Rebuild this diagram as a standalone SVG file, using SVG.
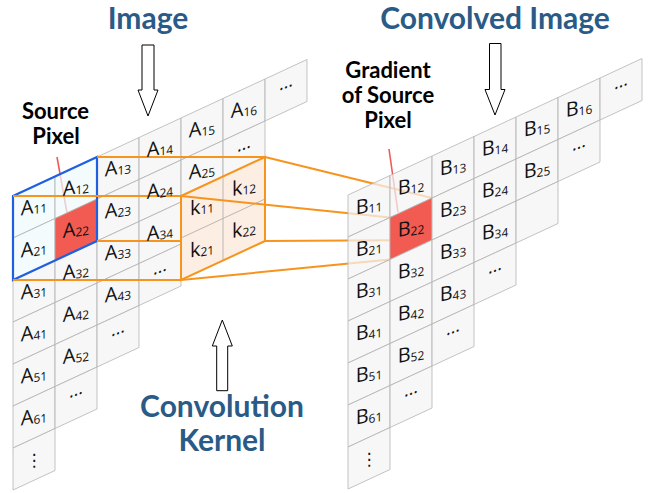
<svg xmlns="http://www.w3.org/2000/svg" xmlns:xlink="http://www.w3.org/1999/xlink" width="653" height="493" viewBox="0 0 653 493">
<style>
.title{font-family:Lato,"Open Sans","Liberation Sans",sans-serif;font-weight:700;font-size:30px;fill:#2a5b87;text-anchor:middle}
.lbl{font-family:Lato,"Open Sans","Liberation Sans",sans-serif;font-weight:700;font-size:22px;fill:#000;text-anchor:middle}
.cell{fill:#f4f4f4;fill-opacity:0.72;stroke:#b4b4b4;stroke-width:0.8}
.sel{fill:#eefafc;fill-opacity:0.72;stroke:#b4b4b4;stroke-width:0.8}
.red{fill:#f25b52;stroke:#b4b4b4;stroke-width:0.8}
.t{font-family:"Open Sans","Noto Sans","DejaVu Sans",sans-serif;font-size:20px;fill:#111;text-anchor:middle}
.s{font-size:12px}
.dots{font-family:"Open Sans","DejaVu Sans",sans-serif;font-size:18px;fill:#111;text-anchor:middle}
.vd{font-family:"DejaVu Sans",sans-serif;font-size:17px;fill:#111;text-anchor:middle}
.or{stroke:#f7941d;stroke-width:2;fill:none}
.arrow{fill:#fff;stroke:#000;stroke-width:1}
.pin{stroke:#f05a55;stroke-width:1.6}
</style>
<defs>
<path id="c" d="M0,0 l42,-19.5 v42 l-42,19.5 z"/>
</defs>

<g id="titles">
<text class="title" x="148" y="29">Image</text>
<text class="title" x="495" y="29">Convolved Image</text>
<text class="title" x="222" y="417">Convolution</text>
<text class="title" x="222" y="451">Kernel</text>
<text class="lbl" x="55.5" y="119">Source</text>
<text class="lbl" x="56" y="144">Pixel</text>
<text class="lbl" x="388" y="78">Gradient</text>
<text class="lbl" x="388" y="103">of Source</text>
<text class="lbl" x="388" y="128">Pixel</text>
</g>

<g id="arrows">
<polygon class="arrow" points="142,45 154,45 154,90 158,90 148,116 138,90 142,90"/>
<polygon class="arrow" points="489.5,43.5 501,43.5 501,89.5 505,89.5 495,115 485,89.5 489.5,89.5"/>
<polygon class="arrow" points="222.3,320 232.3,346 227.7,346 227.7,390.7 216.7,390.7 216.7,346 212.3,346"/>
</g>

<g id="source-pin"><line class="pin" x1="57" y1="157" x2="67" y2="213"/></g>

<g id="image-grid">
<use href="#c" class="sel" x="13" y="196"/>
<use href="#c" class="sel" x="13" y="238"/>
<use href="#c" class="cell" x="13" y="280"/>
<use href="#c" class="cell" x="13" y="322"/>
<use href="#c" class="cell" x="13" y="364"/>
<use href="#c" class="cell" x="13" y="406"/>
<use href="#c" class="cell" x="13" y="448"/>
<use href="#c" class="sel" x="55" y="176.5"/>
<use href="#c" class="red" x="55" y="218.5"/>
<use href="#c" class="cell" x="55" y="260.5"/>
<use href="#c" class="cell" x="55" y="302.5"/>
<use href="#c" class="cell" x="55" y="344.5"/>
<use href="#c" class="cell" x="55" y="386.5"/>
<use href="#c" class="cell" x="97" y="157"/>
<use href="#c" class="cell" x="97" y="199"/>
<use href="#c" class="cell" x="97" y="241"/>
<use href="#c" class="cell" x="97" y="283"/>
<use href="#c" class="cell" x="97" y="325"/>
<use href="#c" class="cell" x="139" y="137.5"/>
<use href="#c" class="cell" x="139" y="179.5"/>
<use href="#c" class="cell" x="139" y="221.5"/>
<use href="#c" class="cell" x="139" y="263.5"/>
<use href="#c" class="cell" x="181" y="118"/>
<use href="#c" class="cell" x="181" y="160"/>
<use href="#c" class="cell" x="181" y="202"/>
<use href="#c" class="cell" x="223" y="98.5"/>
<use href="#c" class="cell" x="223" y="140.5"/>
<use href="#c" class="cell" x="265" y="79"/>
<polygon points="13,196 97,157 97,241 13,280" fill="none" stroke="#1f5fe0" stroke-width="2.2"/>
</g>

<g id="connectors">
<line class="or" x1="13" y1="196" x2="181" y2="196"/>
<line class="or" x1="97" y1="157" x2="265" y2="157"/>
<line class="or" x1="97" y1="241" x2="265" y2="241"/>
<line class="or" x1="13" y1="280" x2="181" y2="280"/>
</g>

<g id="kernel">
<polygon points="181,196 265,157 265,241 181,280" fill="#fdeee3"/>
<line x1="223" y1="176.5" x2="223" y2="260.5" stroke="#a8a8a8" stroke-width="0.8"/>
<line x1="181" y1="238" x2="265" y2="199" stroke="#a8a8a8" stroke-width="0.8"/>
<polygon class="or" points="181,196 265,157 265,241 181,280"/>
</g>

<g id="kernel-links">
<line class="or" x1="265" y1="157" x2="432" y2="198"/>
<line class="or" x1="181" y1="196" x2="390" y2="217.5"/>
<line class="or" x1="265" y1="241" x2="432" y2="240"/>
<line class="or" x1="181" y1="280" x2="390" y2="259.5"/>
</g>

<g id="gradient-pin"><line class="pin" x1="389" y1="149" x2="398" y2="212.5"/></g>

<g id="convolved-grid">
<use href="#c" class="cell" x="348" y="195"/>
<use href="#c" class="cell" x="348" y="237"/>
<use href="#c" class="cell" x="348" y="279"/>
<use href="#c" class="cell" x="348" y="321"/>
<use href="#c" class="cell" x="348" y="363"/>
<use href="#c" class="cell" x="348" y="405"/>
<use href="#c" class="cell" x="348" y="447"/>
<use href="#c" class="cell" x="390" y="175.5"/>
<use href="#c" class="red" x="390" y="217.5"/>
<use href="#c" class="cell" x="390" y="259.5"/>
<use href="#c" class="cell" x="390" y="301.5"/>
<use href="#c" class="cell" x="390" y="343.5"/>
<use href="#c" class="cell" x="390" y="385.5"/>
<use href="#c" class="cell" x="432" y="156"/>
<use href="#c" class="cell" x="432" y="198"/>
<use href="#c" class="cell" x="432" y="240"/>
<use href="#c" class="cell" x="432" y="282"/>
<use href="#c" class="cell" x="432" y="324"/>
<use href="#c" class="cell" x="474" y="136.5"/>
<use href="#c" class="cell" x="474" y="178.5"/>
<use href="#c" class="cell" x="474" y="220.5"/>
<use href="#c" class="cell" x="474" y="262.5"/>
<use href="#c" class="cell" x="516" y="117"/>
<use href="#c" class="cell" x="516" y="159"/>
<use href="#c" class="cell" x="516" y="201"/>
<use href="#c" class="cell" x="558" y="97.5"/>
<use href="#c" class="cell" x="558" y="139.5"/>
<use href="#c" class="cell" x="600" y="78"/>
</g>

<g id="image-labels">
<text class="t" transform="translate(34 207.25) skewY(-10)" y="6">A<tspan class="s" dy="1">11</tspan></text>
<text class="t" transform="translate(34 249.25) skewY(-10)" y="6">A<tspan class="s" dy="1">21</tspan></text>
<text class="t" transform="translate(34 291.25) skewY(-10)" y="6">A<tspan class="s" dy="1">31</tspan></text>
<text class="t" transform="translate(34 333.25) skewY(-10)" y="6">A<tspan class="s" dy="1">41</tspan></text>
<text class="t" transform="translate(34 375.25) skewY(-10)" y="6">A<tspan class="s" dy="1">51</tspan></text>
<text class="t" transform="translate(34 417.25) skewY(-10)" y="6">A<tspan class="s" dy="1">61</tspan></text>
<text class="vd" x="34" y="466">⋮</text>
<text class="t" transform="translate(76 187.75) skewY(-10)" y="6">A<tspan class="s" dy="1">12</tspan></text>
<text class="t" transform="translate(76 229.75) skewY(-10)" y="6">A<tspan class="s" dy="1">22</tspan></text>
<text class="t" transform="translate(76 271.75) skewY(-10)" y="6">A<tspan class="s" dy="1">32</tspan></text>
<text class="t" transform="translate(76 313.75) skewY(-10)" y="6">A<tspan class="s" dy="1">42</tspan></text>
<text class="t" transform="translate(76 355.75) skewY(-10)" y="6">A<tspan class="s" dy="1">52</tspan></text>
<text class="dots" transform="translate(76 397.75) skewY(-20)" y="-2">…</text>
<text class="t" transform="translate(118 168.25) skewY(-10)" y="6">A<tspan class="s" dy="1">13</tspan></text>
<text class="t" transform="translate(118 210.25) skewY(-10)" y="6">A<tspan class="s" dy="1">23</tspan></text>
<text class="t" transform="translate(118 252.25) skewY(-10)" y="6">A<tspan class="s" dy="1">33</tspan></text>
<text class="t" transform="translate(118 294.25) skewY(-10)" y="6">A<tspan class="s" dy="1">43</tspan></text>
<text class="dots" transform="translate(118 336.25) skewY(-20)" y="-2">…</text>
<text class="t" transform="translate(160 148.75) skewY(-10)" y="6">A<tspan class="s" dy="1">14</tspan></text>
<text class="t" transform="translate(160 190.75) skewY(-10)" y="6">A<tspan class="s" dy="1">24</tspan></text>
<text class="t" transform="translate(160 232.75) skewY(-10)" y="6">A<tspan class="s" dy="1">34</tspan></text>
<text class="dots" transform="translate(160 274.75) skewY(-20)" y="-2">…</text>
<text class="t" transform="translate(202 129.25) skewY(-10)" y="6">A<tspan class="s" dy="1">15</tspan></text>
<text class="t" transform="translate(202 171.25) skewY(-10)" y="6">A<tspan class="s" dy="1">25</tspan></text>
<text class="t" transform="translate(244 109.75) skewY(-10)" y="6">A<tspan class="s" dy="1">16</tspan></text>
<text class="dots" transform="translate(244 151.75) skewY(-20)" y="-2">…</text>
<text class="dots" transform="translate(286 90.25) skewY(-20)" y="-2">…</text>
</g>

<g id="kernel-labels">
<text class="t" transform="translate(202 207.25) skewY(-10)" y="6">k<tspan class="s" dy="1">11</tspan></text>
<text class="t" transform="translate(244 187.75) skewY(-10)" y="6">k<tspan class="s" dy="1">12</tspan></text>
<text class="t" transform="translate(202 249.25) skewY(-10)" y="6">k<tspan class="s" dy="1">21</tspan></text>
<text class="t" transform="translate(244 229.75) skewY(-10)" y="6">k<tspan class="s" dy="1">22</tspan></text>
</g>

<g id="convolved-labels">
<text class="t" transform="translate(369 206.25) skewY(-10)" y="6">B<tspan class="s" dy="1">11</tspan></text>
<text class="t" transform="translate(369 248.25) skewY(-10)" y="6">B<tspan class="s" dy="1">21</tspan></text>
<text class="t" transform="translate(369 290.25) skewY(-10)" y="6">B<tspan class="s" dy="1">31</tspan></text>
<text class="t" transform="translate(369 332.25) skewY(-10)" y="6">B<tspan class="s" dy="1">41</tspan></text>
<text class="t" transform="translate(369 374.25) skewY(-10)" y="6">B<tspan class="s" dy="1">51</tspan></text>
<text class="t" transform="translate(369 416.25) skewY(-10)" y="6">B<tspan class="s" dy="1">61</tspan></text>
<text class="vd" x="369" y="465">⋮</text>
<text class="t" transform="translate(411 186.75) skewY(-10)" y="6">B<tspan class="s" dy="1">12</tspan></text>
<text class="t" transform="translate(411 228.75) skewY(-10)" y="6">B<tspan class="s" dy="1">22</tspan></text>
<text class="t" transform="translate(411 270.75) skewY(-10)" y="6">B<tspan class="s" dy="1">32</tspan></text>
<text class="t" transform="translate(411 312.75) skewY(-10)" y="6">B<tspan class="s" dy="1">42</tspan></text>
<text class="t" transform="translate(411 354.75) skewY(-10)" y="6">B<tspan class="s" dy="1">52</tspan></text>
<text class="dots" transform="translate(411 396.75) skewY(-20)" y="-2">…</text>
<text class="t" transform="translate(453 167.25) skewY(-10)" y="6">B<tspan class="s" dy="1">13</tspan></text>
<text class="t" transform="translate(453 209.25) skewY(-10)" y="6">B<tspan class="s" dy="1">23</tspan></text>
<text class="t" transform="translate(453 251.25) skewY(-10)" y="6">B<tspan class="s" dy="1">33</tspan></text>
<text class="t" transform="translate(453 293.25) skewY(-10)" y="6">B<tspan class="s" dy="1">43</tspan></text>
<text class="dots" transform="translate(453 335.25) skewY(-20)" y="-2">…</text>
<text class="t" transform="translate(495 147.75) skewY(-10)" y="6">B<tspan class="s" dy="1">14</tspan></text>
<text class="t" transform="translate(495 189.75) skewY(-10)" y="6">B<tspan class="s" dy="1">24</tspan></text>
<text class="t" transform="translate(495 231.75) skewY(-10)" y="6">B<tspan class="s" dy="1">34</tspan></text>
<text class="dots" transform="translate(495 273.75) skewY(-20)" y="-2">…</text>
<text class="t" transform="translate(537 128.25) skewY(-10)" y="6">B<tspan class="s" dy="1">15</tspan></text>
<text class="t" transform="translate(537 170.25) skewY(-10)" y="6">B<tspan class="s" dy="1">25</tspan></text>
<text class="t" transform="translate(579 108.75) skewY(-10)" y="6">B<tspan class="s" dy="1">16</tspan></text>
<text class="dots" transform="translate(579 150.75) skewY(-20)" y="-2">…</text>
<text class="dots" transform="translate(621 89.25) skewY(-20)" y="-2">…</text>
</g>
</svg>
